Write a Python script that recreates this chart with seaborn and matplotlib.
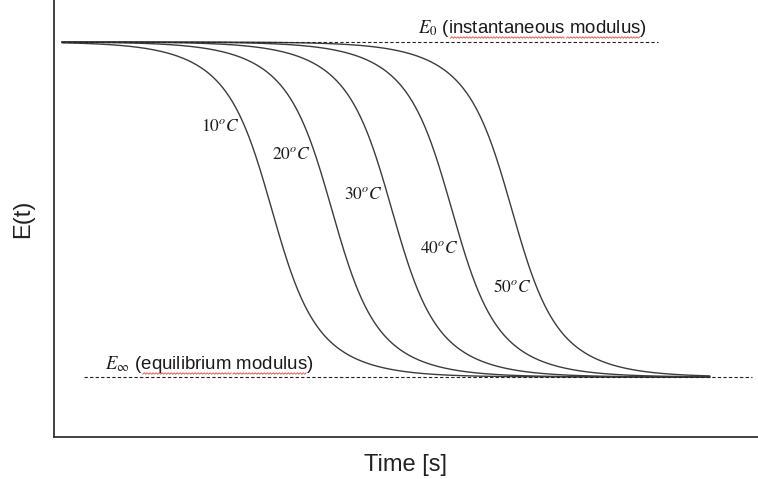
import numpy as np
import pandas as pd
import matplotlib
matplotlib.use("Agg")
import matplotlib.pyplot as plt
from matplotlib.lines import Line2D
from matplotlib.transforms import IdentityTransform
import seaborn as sns

# Relaxation modulus master curve, shifted along log-time for each temperature
temperatures = [10, 20, 30, 40, 50]
log_shift = [3.63, 4.63, 5.63, 6.63, 7.63]   # log-time of the half-relaxation point
E0 = 1.0        # instantaneous modulus
E_inf = 0.0     # equilibrium modulus
fast_width, slow_width, fast_weight = 0.30, 0.67, 0.55

sns.set_theme(style="white")
plt.rcParams["font.family"] = ["Liberation Sans", "DejaVu Sans"]
plt.rcParams["mathtext.fontset"] = "stix"

log_t = np.linspace(0.133, 10.93, 600)


def relaxation(x, shift):
    z1 = (x - shift) / fast_width
    z2 = (x - shift) / slow_width
    drop = fast_weight / (1 + np.exp(-z1)) + (1 - fast_weight) / (1 + np.exp(-z2))
    return E0 - (E0 - E_inf) * drop


frames = []
for T, s in zip(temperatures, log_shift):
    frames.append(pd.DataFrame({"log_t": log_t, "E": relaxation(log_t, s), "T": T}))
df = pd.concat(frames, ignore_index=True)

fig = plt.figure(figsize=(7.58, 4.79), dpi=100)
ax = fig.add_axes([54 / 758, 42 / 479, 704 / 758, 437 / 479])

line_color = "#3c3c3c"
sns.lineplot(data=df, x="log_t", y="E", hue="T", palette=[line_color] * len(temperatures),
             legend=False, linewidth=1.0, ax=ax, sort=True)

ax.set_xlim(0, 704 / 60)
ax.set_ylim(E_inf - 60 / 335, E0 + 42 / 335)

# modulus limits
ax.hlines(E0, 0.133, 10.07, colors="#222222", linestyles=(0, (3, 2)), linewidth=0.8)
ax.hlines(E_inf, 0.5, 11.63, colors="#222222", linestyles=(0, (3, 2)), linewidth=0.8)

# temperature labels, set just left of each curve
label_levels = [0.25, 0.335, 0.455, 0.615, 0.73]
for T, s, lvl in zip(temperatures, log_shift, label_levels):
    e_val = E0 - (E0 - E_inf) * lvl
    curve = relaxation(log_t, s)
    x_at = np.interp(-e_val, -curve, log_t)
    ax.annotate(rf"${T}^{{o}}C$", xy=(x_at, e_val), xytext=(-3.5, 0),
                textcoords="offset points", ha="right", va="center",
                fontsize=12.5, color="#1a1a1a")

label_kw = dict(fontsize=13.4, color="#1a1a1a", va="baseline", ha="left")
top_text = r"$E_0$ (instantaneous modulus)"
bot_text = r"$E_\infty$ (equilibrium modulus)"
t_top = ax.text(6.07, E0 + 9 / 335, top_text, **label_kw)
t_bot = ax.text(0.85, E_inf + 8 / 335, bot_text, **label_kw)

ax.set_xlabel("Time [s]", fontsize=17, color="#222222", labelpad=12)
ax.set_ylabel("E(t)", fontsize=17, color="#222222", labelpad=14)
ax.set_xticks([])
ax.set_yticks([])
sns.despine(ax=ax)
for side in ("left", "bottom"):
    ax.spines[side].set_color("#333333")
    ax.spines[side].set_linewidth(1.3)

# wavy red proofing underline under the spelled-out words
fig.canvas.draw()
renderer = fig.canvas.get_renderer()


def text_width(artist, s):
    tmp = ax.text(*artist.get_position(), s, **label_kw)
    w = tmp.get_window_extent(renderer).width
    tmp.remove()
    return w


def squiggle(artist, full, word):
    bb = artist.get_window_extent(renderer)
    i = full.index(word)
    x0 = bb.x0 + text_width(artist, full[:i])
    x1 = bb.x0 + text_width(artist, full[:i + len(word)])
    xs = np.arange(x0, x1, 1.5)
    ys = bb.y0 + 0.8 + np.where(np.arange(len(xs)) % 2 == 0, 0.0, 1.4)
    fig.add_artist(Line2D(xs, ys, transform=IdentityTransform(),
                          color="#e04848", linewidth=0.7, alpha=0.9))


for word in ("instantaneous", "modulus"):
    squiggle(t_top, top_text, word)
for word in ("equilibrium", "modulus"):
    squiggle(t_bot, bot_text, word)

fig.savefig("out.png", dpi=100)
